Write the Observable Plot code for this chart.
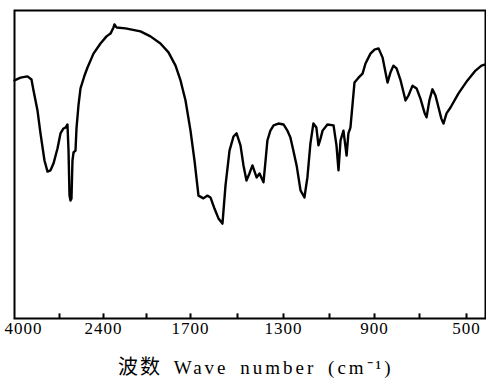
<!DOCTYPE html>
<html><head><meta charset="utf-8">
<script src="https://cdn.jsdelivr.net/npm/d3@7"></script>
<script src="https://cdn.jsdelivr.net/npm/@observablehq/plot@0.6"></script>
<style>
body{margin:0;background:#fff;position:relative;width:486px;height:380px;}
#chart svg{display:block;}
#cap{position:absolute;left:118px;top:355px;font-family:"Liberation Serif","Noto Sans CJK SC",serif;font-size:19px;height:22px;line-height:22px;color:#000;white-space:pre;letter-spacing:3px;word-spacing:4px;}
#cap .zh{font-family:"Noto Sans CJK SC",sans-serif;font-size:20px;letter-spacing:2px;}
</style>
</head><body>
<div id="chart"></div>
<div id="cap"><span class="zh">波数</span> Wave number (cm⁻¹)</div>
<script>
const wavenumber = [4000,3893,3769,3698,3662,3591,3538,3467,3413,3360,
3307,3236,3182,3127,3091,3055,3036,3018,3000,2982,
2964,2945,2909,2891,2855,2818,2745,2691,2582,2455,
2372,2335,2307,2298,2279,2195,2056,1973,1905,1850,
1802,1768,1734,1700,1683,1666,1645,1628,1615,1598,
1581,1564,1551,1534,1517,1504,1487,1474,1461,1448,
1435,1417,1404,1387,1378,1370,1357,1343,1322,1300,
1283,1270,1257,1243,1226,1209,1196,1183,1170,1157,
1148,1139,1130,1109,1082,1069,1060,1051,1038,1024,
1016,1007,998,989,971,953,940,918,900,882,
864,851,842,829,816,802,784,762,749,731,
713,696,679,670,658,645,632,619,607,598,
585,568,534,496,462,437,420];
const transmittance = [77.3,78.2,78.6,77.6,74.0,67.5,60.1,51.3,47.7,48.1,
50.3,55.2,60.1,61.7,62.0,63.0,54.5,39.9,38.3,39.0,
51.3,53.9,54.5,61.7,69.2,74.7,78.9,81.5,86.0,89.3,
91.6,92.5,94.5,95.5,94.5,94.2,93.2,91.6,89.3,86.4,
82.1,77.3,70.8,61.0,51.3,39.9,39.0,39.9,39.3,35.7,
32.5,30.8,43.2,54.5,59.1,60.1,56.2,49.7,44.8,47.1,
49.7,45.8,47.1,44.2,51.3,57.8,61.0,62.7,63.3,63.0,
61.0,58.8,54.5,49.7,41.6,39.3,45.8,56.8,63.3,62.0,
56.2,58.4,61.0,63.0,62.7,56.2,48.1,57.8,61.0,52.9,
60.1,62.0,69.2,76.6,78.2,79.5,82.8,86.0,87.3,87.7,
84.7,79.9,76.6,79.9,82.1,81.2,77.3,70.8,72.4,75.6,
74.7,71.4,66.9,65.3,70.8,74.4,72.4,68.5,64.9,63.3,
66.6,68.5,73.1,77.3,80.5,82.1,82.5];
// nonlinear chart paper: wavenumber breakpoints and their distance along the paper
const axisBreaks = [4000,3200,2400,2000,1700,1500,1300,1100,900,700,500,420];
const paperUnits = [0,45,89,132,176,223,269,315,360,405,452,471];
const tickValues = [3200,2400,2000,1700,1500,1300,1100,900,700,500];
const labelValues = [2400,1700,1300,900,500];
const firstLabel = [4000];

const toPaper = d3.scaleLinear().domain(axisBreaks).range(paperUnits);
const spectrum = wavenumber.map((w,i)=>({w, t: transmittance[i]}));
const fontFamily = '"Liberation Serif","Noto Sans CJK SC",serif';

const plot = Plot.plot({
  width: 486, height: 346,
  marginTop: 10, marginBottom: 28, marginLeft: 14, marginRight: 1,
  style: {fontFamily, fontSize: "17px", color: "#000", background: "#fff", letterSpacing: "1px"},
  x: {transform: w => toPaper(w), domain: [0, 471], axis: null},
  y: {domain: [0,100], axis: null},
  marks: [
    Plot.frame({stroke: "#000", strokeWidth: 2}),
    Plot.ruleX(tickValues, {x: d=>d, y1: 0, y2: 1.5, stroke: "#000", strokeWidth: 2}),
    Plot.text(labelValues, {x: d=>d, text: d=>String(d), frameAnchor: "bottom", dy: 15, fontSize: 17, fill: "#000"}),
    Plot.text(firstLabel, {x: d=>d, text: d=>String(d), frameAnchor: "bottom", dy: 15, dx: 9, fontSize: 17, fill: "#000"}),
    Plot.line(spectrum, {x: "w", y: "t", stroke: "#000", strokeWidth: 2.4, strokeLinejoin: "round"})
  ]
});
document.getElementById("chart").append(plot);
</script>
</body></html>
